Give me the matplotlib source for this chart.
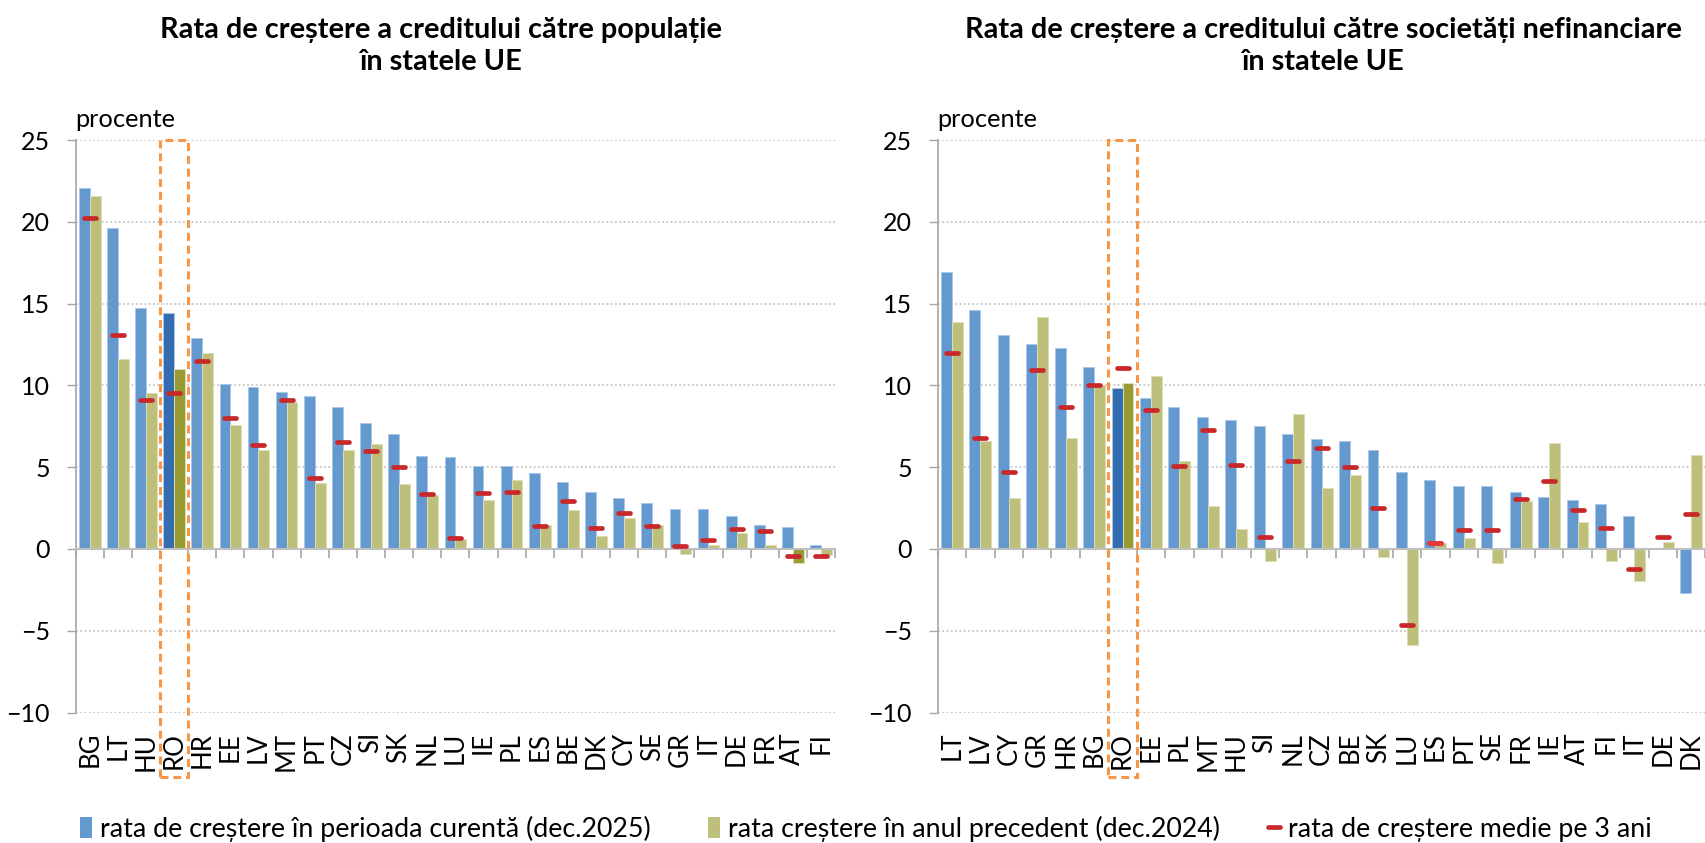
import numpy as np
import matplotlib
matplotlib.use("Agg")
import matplotlib.pyplot as plt
from matplotlib.markers import MarkerStyle
from matplotlib.patches import Rectangle, Patch
from matplotlib.lines import Line2D

plt.rcParams['font.family'] = ['Lato', 'DejaVu Sans']

# ---------------- data ----------------
cats_hh = ["BG", "LT", "HU", "RO", "HR", "EE", "LV", "MT", "PT", "CZ", "SI", "SK", "NL", "LU",
           "IE", "PL", "ES", "BE", "DK", "CY", "SE", "GR", "IT", "DE", "FR", "AT", "FI"]
cur_hh = [22.05, 19.6, 14.75, 14.4, 12.9, 10.1, 9.9, 9.6, 9.35, 8.7, 7.7, 7.05, 5.7, 5.65,
          5.1, 5.1, 4.65, 4.1, 3.45, 3.1, 2.8, 2.45, 2.45, 2.0, 1.45, 1.35, 0.25]
prev_hh = [21.6, 11.6, 9.55, 11.0, 12.0, 7.6, 6.05, 9.0, 4.05, 6.05, 6.4, 3.95, 3.3, 0.6,
           3.0, 4.2, 1.45, 2.35, 0.8, 1.9, 1.45, -0.3, 0.25, 0.95, 0.25, -0.85, -0.4]
avg_hh = [20.25, 13.05, 9.1, 9.55, 11.5, 8.0, 6.35, 9.1, 4.35, 6.55, 6.0, 5.0, 3.35, 0.65,
          3.4, 3.5, 1.4, 2.95, 1.3, 2.2, 1.4, 0.2, 0.55, 1.2, 1.1, -0.45, -0.45]

cats_nfc = ["LT", "LV", "CY", "GR", "HR", "BG", "RO", "EE", "PL", "MT", "HU", "SI", "NL", "CZ",
            "BE", "SK", "LU", "ES", "PT", "SE", "FR", "IE", "AT", "FI", "IT", "DE", "DK"]
cur_nfc = [16.9, 14.6, 13.1, 12.5, 12.3, 11.1, 9.85, 9.25, 8.7, 8.05, 7.9, 7.5, 7.05, 6.7,
           6.6, 6.05, 4.7, 4.2, 3.85, 3.85, 3.5, 3.2, 3.0, 2.75, 2.0, np.nan, -2.7]
prev_nfc = [13.85, 6.6, 3.1, 14.2, 6.8, 10.05, 10.15, 10.55, 5.4, 2.65, 1.2, -0.75, 8.25, 3.75,
            4.5, -0.5, -5.9, 0.35, 0.65, -0.85, 2.95, 6.5, 1.65, -0.75, -1.95, 0.45, 5.75]
avg_nfc = [11.95, 6.8, 4.7, 10.95, 8.65, 10.05, 11.05, 8.5, 5.05, 7.3, 5.15, 0.75, 5.35, 6.2,
           5.0, 2.5, -4.65, 0.35, 1.15, 1.15, 3.05, 4.15, 2.4, 1.3, -1.25, 0.75, 2.15]

title_hh = "Rata de creștere a creditului către populație\nîn statele UE"
title_nfc = "Rata de creștere a creditului către societăți nefinanciare\nîn statele UE"
unit_label = "procente"
legend_labels = ["rata de creștere în perioada curentă (dec.2025)",
                 "rata creștere în anul precedent (dec.2024)",
                 "rata de creștere medie pe 3 ani"]
highlight = "RO"

# ---------------- style ----------------
BLUE, BLUE_EDGE, BLUE_DARK = "#6399CE", "#A9C8E8", "#346CB0"
GREEN, GREEN_EDGE, GREEN_DARK = "#BDBF7B", "#DCDDB5", "#9A9A35"
RED, RED_BRIGHT = "#C8282A", "#E8393B"
ORANGE = "#F79646"
GRAY = "#A6A6A6"

W, H = 1706, 843
fig = plt.figure(figsize=(W / 100, H / 100), dpi=100)
top_px, bot_px = 140, 712.5
axL = fig.add_axes([75.7 / W, 1 - bot_px / H, (835 - 75.7) / W, (bot_px - top_px) / H])
axR = fig.add_axes([937.7 / W, 1 - bot_px / H, (1705.5 - 937.7) / W, (bot_px - top_px) / H])


def draw(ax, cats, cur, prev, avg, dark_prev=(), bright_avg=()):
    n = len(cats)
    x = np.arange(n)
    w = 0.385
    hi = cats.index(highlight)
    cb = [BLUE_DARK if i == hi else BLUE for i in range(n)]
    cg = [GREEN_DARK if (i == hi or cats[i] in dark_prev) else GREEN for i in range(n)]
    ax.bar(x - w / 2, cur, w, color=cb, edgecolor=BLUE_EDGE, linewidth=0.7, zorder=2)
    ax.bar(x + w / 2, prev, w, color=cg, edgecolor=GREEN_EDGE, linewidth=0.7, zorder=2)
    ms = MarkerStyle('_', capstyle='round')
    avg = np.asarray(avg, dtype=float)
    ax.plot(x, avg, ls='none', marker=ms, ms=8, mew=3.4, color=RED, zorder=4)
    mask = np.array([c in bright_avg for c in cats])
    if mask.any():
        ax.plot(x[mask], avg[mask], ls='none', marker=ms, ms=8, mew=3.4, color=RED_BRIGHT, zorder=5)

    ax.set_xlim(-0.5, n - 0.5)
    ax.set_ylim(-10, 25)
    ax.set_yticks(range(-10, 26, 5))
    ax.grid(axis='y', linestyle=(0, (1.2, 1.6)), color='#BDBDBD', linewidth=1.1)
    ax.set_axisbelow(True)
    for s in ('top', 'right'):
        ax.spines[s].set_visible(False)
    ax.spines['left'].set_color(GRAY)
    ax.spines['left'].set_linewidth(1.2)
    ax.spines['bottom'].set_position(('data', 0))
    ax.spines['bottom'].set_color('#BFBFBF')
    ax.spines['bottom'].set_linewidth(1.5)
    ax.spines['bottom'].set_zorder(3)
    ax.set_xticks(np.arange(n + 1) - 0.5)
    ax.tick_params(axis='x', length=6.5, width=1.2, color=GRAY, labelbottom=False, direction='out')
    ax.tick_params(axis='y', length=6.5, width=1.0, color=GRAY, pad=12, labelsize=18)

    sec = ax.secondary_xaxis('bottom')
    sec.set_xticks(x, cats, rotation=90)
    sec.tick_params(length=0, pad=14, labelsize=18.5)
    sec.spines['bottom'].set_visible(False)

    ax.text(0.0, 1.035, unit_label, transform=ax.transAxes, ha='left', va='center', fontsize=18.3)

    ax.add_patch(Rectangle((hi - 0.5, -13.95), 1, 38.95, fill=False, edgecolor=ORANGE,
                           linewidth=2.2, linestyle=(0, (2.6, 1.6)), clip_on=False, zorder=6))


draw(axL, cats_hh, cur_hh, prev_hh, avg_hh, dark_prev=("AT",))
draw(axR, cats_nfc, cur_nfc, prev_nfc, avg_nfc, bright_avg=("ES",))

fig.text(441 / W, 1 - 17 / H, title_hh, ha='center', va='top', fontsize=20.8,
         fontweight='bold', linespacing=1.3)
fig.text(1323 / W, 1 - 17 / H, title_nfc, ha='center', va='top', fontsize=20.8,
         fontweight='bold', linespacing=1.3)

# legend: three items placed along the bottom
handles = [Patch(facecolor=BLUE, edgecolor='none'),
           Patch(facecolor=GREEN, edgecolor='none'),
           Line2D([], [], ls='none', marker=MarkerStyle('_', capstyle='round'), ms=8, mew=3.4, color=RED)]
xs = [80, 708, 1268]
for h, lab, xp in zip(handles, legend_labels, xs):
    fig.legend([h], [lab], loc='center left', bbox_to_anchor=(xp / W, 1 - 829 / H),
               frameon=False, fontsize=19.3, handlelength=0.45, handleheight=0.8,
               handletextpad=0.3, borderpad=0, borderaxespad=0)

fig.savefig("out.png", dpi=100)
